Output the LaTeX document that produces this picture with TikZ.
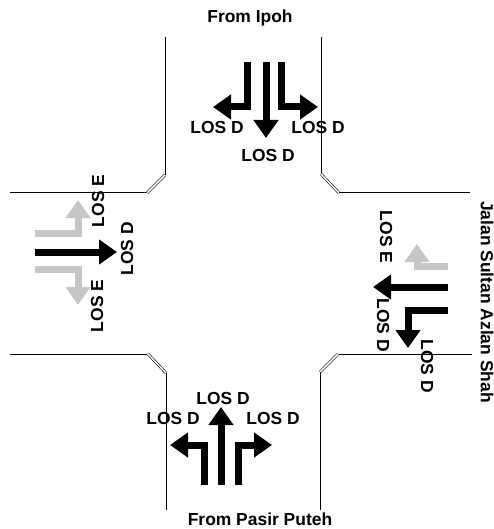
\documentclass[tikz,border=0pt]{standalone}
\usepackage{fontspec}
\setmainfont{Liberation Sans}
\usetikzlibrary{arrows.meta}
\usetikzlibrary{positioning}

\begin{document}
\begin{tikzpicture}[x=1bp,y=-1bp,
  every node/.style={font=\bfseries\fontsize{17.5}{20}\selectfont,inner sep=0pt},
  road/.style={line width=1bp},
  kerb/.style={double,double distance=1.5bp,line width=0.6bp},
  lane/.style={line width=7bp,miter limit=10,-{Triangle[length=18bp,width=24bp]}},
  lanegray/.style={lane,gray!45}]
  \useasboundingbox (0,0) rectangle (494,529);

  % road edges
  \draw[road] (165,37) -- (165,175);
  \draw[kerb] (165,175) -- (147,193);
  \draw[road] (147,193) -- (10,193);
  \draw[road] (321,37) -- (321,174);
  \draw[kerb] (321,174) -- (339,193);
  \draw[road] (339,193) -- (470,193);
  \draw[road] (10,354) -- (148,354);
  \draw[kerb] (148,354) -- (166,373);
  \draw[road] (166,373) -- (166,510);
  \draw[road] (472,354) -- (338,354);
  \draw[kerb] (338,354) -- (320,372);
  \draw[road] (320,372) -- (320,510);

  % approaches
  \node (ipoh) at (250,18) {From Ipoh};
  \node (pasir) at (260,519) {From Pasir Puteh};
  \node[rotate=-90] (jalan) at (487,302) {Jalan Sultan Azlan Shah};

  % from Ipoh
  \draw[lane] (247,62) |- (213,107);
  \draw[lane] (266,62) -- (266,138);
  \draw[lane] (281,62) |- (318,107);
  \node (n1) at (217,127) {LOS D};
  \node (n2) at (318,127) {LOS D};
  \node (n3) at (268,155) {LOS D};

  % from the west
  \draw[lanegray] (35,233) -| (78,200);
  \draw[lane] (35,252) -- (117,252);
  \draw[lanegray] (35,269) -| (78,305);
  \node[rotate=90] (w1) at (98,201) {LOS E};
  \node[rotate=90] (w2) at (127,249) {LOS D};
  \node[rotate=90] (w3) at (97,306) {LOS E};

  % from Jalan Sultan Azlan Shah
  \draw[lanegray] (448,266) -| (417,244);
  \draw[lane] (448,287) -- (373,287);
  \draw[lane] (448,310) -| (408,348);
  \node[rotate=-90] (e1) at (386,237) {LOS E};
  \node[rotate=-90] (e2) at (383,325) {LOS D};
  \node[rotate=-90] (e3) at (427,366) {LOS D};

  % from Pasir Puteh
  \draw[lane] (204,485) |- (170,445);
  \draw[lane] (221,485) -- (221,407);
  \draw[lane] (238,485) |- (272,445);
  \node (s1) at (223,398) {LOS D};
  \node (s2) at (173,418) {LOS D};
  \node (s3) at (273,418) {LOS D};
\end{tikzpicture}
\end{document}
